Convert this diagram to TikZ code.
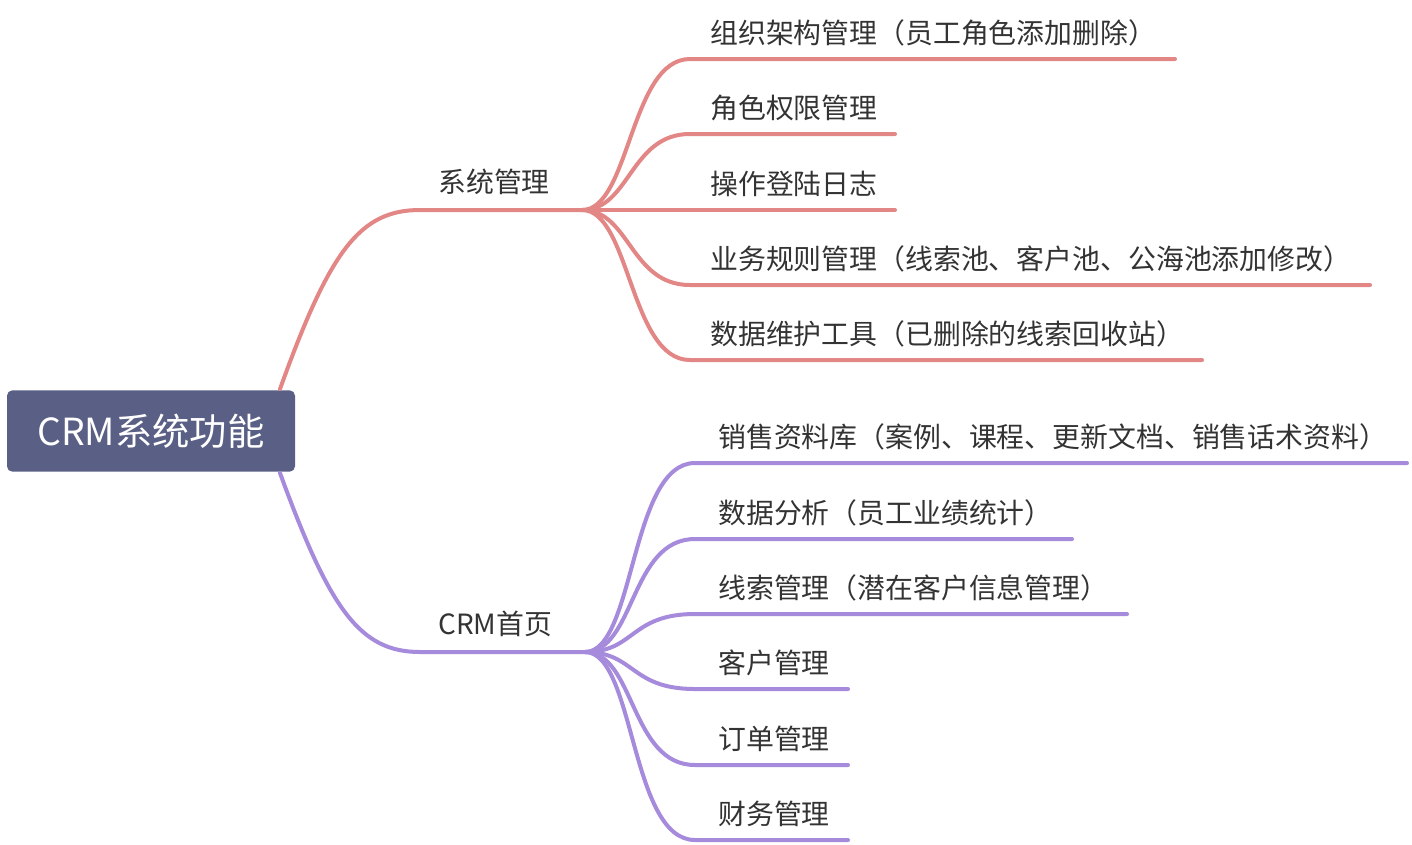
\documentclass[tikz,border=0pt]{standalone}
\usepackage{fontspec}
\setmainfont{Noto Sans CJK SC}
\begin{document}
\begin{tikzpicture}[x=0.75pt,y=-0.75pt,
  redl/.style={draw=red1,line width=3pt,line cap=round},
  purl/.style={draw=pur1,line width=3pt,line cap=round},
  lab/.style={anchor=west,inner sep=0pt,font=\fontsize{20.9}{22}\selectfont,text=black!80}]
\definecolor{red1}{HTML}{E38686}
\definecolor{pur1}{HTML}{A68ADB}
\definecolor{rootc}{HTML}{5A5F85}
\useasboundingbox (0,0) rectangle (1412,844);
\node[fill=rootc,rounded corners=4pt,minimum width=216pt,minimum height=61pt,text=white,font=\fontsize{28}{30}\selectfont] (root) at (151,431) {CRM系统功能};
\coordinate (r1) at (280,389);
\coordinate (r2) at (280,473);
\coordinate (a) at (582,210);
\coordinate (b) at (585,652);
\draw[redl] (r1) .. controls (330,250) and (360,210) .. (420,210) -- (a);
\draw[purl] (r2) .. controls (330,610) and (360,652) .. (420,652) -- (b);
\node[lab] (s1) at (438,182) {系统管理};
\node[lab] (s2) at (438,624) {CRM首页};
\foreach \y/\e/\t [count=\i] in {59/1175/组织架构管理（员工角色添加删除）,134/895/角色权限管理,210/895/操作登陆日志,285/1370/业务规则管理（线索池、客户池、公海池添加修改）,360/1202/数据维护工具（已删除的线索回收站）}{
  \coordinate (ae\i) at (\e,\y);
  \draw[redl] (a) .. controls (630,210) and (630,\y) .. (690,\y) -- (ae\i);
  \node[lab] (an\i) at (710,\y-26) {\t};
}
\foreach \y/\e/\t [count=\i] in {463/1407/销售资料库（案例、课程、更新文档、销售话术资料）,539/1072/数据分析（员工业绩统计）,614/1127/线索管理（潜在客户信息管理）,689/848/客户管理,765/848/订单管理,840/848/财务管理}{
  \coordinate (be\i) at (\e,\y);
  \draw[purl] (b) .. controls (635,652) and (630,\y) .. (695,\y) -- (be\i);
  \node[lab] (bn\i) at (718,\y-26) {\t};
}
\end{tikzpicture}
\end{document}
